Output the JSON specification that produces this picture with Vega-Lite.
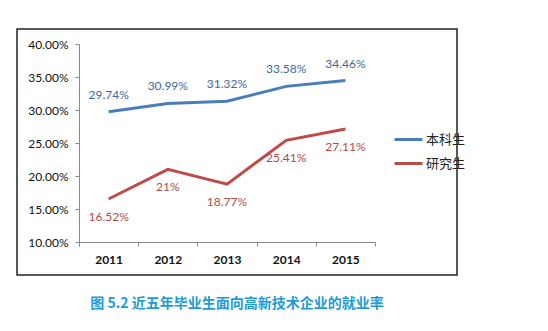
{
  "$schema": "https://vega.github.io/schema/vega-lite/v6.json",
  "width": 440,
  "height": 246,
  "padding": {"left": 17, "top": 29, "right": 91, "bottom": 56},
  "autosize": {"type": "none"},
  "background": "white",
  "config": {
    "view": {"stroke": "#222", "strokeWidth": 1.5},
    "font": "Lato"
  },
  "title": {
    "text": "图 5.2  近五年毕业生面向高新技术企业的就业率",
    "orient": "bottom",
    "anchor": "middle",
    "font": "Noto Sans CJK SC",
    "fontSize": 14,
    "fontWeight": "bold",
    "color": "#1d9bd6",
    "offset": 22
  },
  "data": {
    "values": [
      {"year": "2011", "series": "本科生", "value": 0.2974, "label": "29.74%"},
      {"year": "2012", "series": "本科生", "value": 0.3099, "label": "30.99%"},
      {"year": "2013", "series": "本科生", "value": 0.3132, "label": "31.32%"},
      {"year": "2014", "series": "本科生", "value": 0.3358, "label": "33.58%"},
      {"year": "2015", "series": "本科生", "value": 0.3446, "label": "34.46%"},
      {"year": "2011", "series": "研究生", "value": 0.1652, "label": "16.52%"},
      {"year": "2012", "series": "研究生", "value": 0.21, "label": "21%"},
      {"year": "2013", "series": "研究生", "value": 0.1877, "label": "18.77%"},
      {"year": "2014", "series": "研究生", "value": 0.2541, "label": "25.41%"},
      {"year": "2015", "series": "研究生", "value": 0.2711, "label": "27.11%"}
    ]
  },
  "encoding": {
    "x": {
      "field": "year",
      "type": "ordinal",
      "scale": {"range": [62, 358], "paddingInner": 0, "paddingOuter": 0},
      "axis": {
        "title": null,
        "labelAngle": 0,
        "offset": -33,
        "tickBand": "extent",
        "domainColor": "#888",
        "tickColor": "#888",
        "tickSize": 4,
        "labelFont": "Lato",
        "labelFontSize": 12,
        "labelFontWeight": "bold",
        "labelColor": "#111",
        "labelPadding": 8
      }
    },
    "y": {
      "field": "value",
      "type": "quantitative",
      "scale": {"domain": [0.1, 0.4], "range": [213, 15], "nice": false, "zero": false},
      "axis": {
        "title": null,
        "values": [0.1, 0.15, 0.2, 0.25, 0.3, 0.35, 0.4],
        "format": ".2%",
        "offset": -62,
        "grid": false,
        "domainColor": "#888",
        "tickColor": "#888",
        "tickSize": 4,
        "labelFont": "Lato",
        "labelFontSize": 12,
        "labelColor": "#111",
        "labelPadding": 7
      }
    }
  },
  "layer": [
    {
      "mark": {"type": "line", "strokeWidth": 3},
      "encoding": {
        "color": {
          "field": "series",
          "type": "nominal",
          "scale": {"domain": ["本科生", "研究生"], "range": ["#4a7ebb", "#be4b48"]},
          "legend": {
            "title": null,
            "orient": "none",
            "legendX": 376,
            "legendY": 95,
            "symbolType": "stroke",
            "symbolSize": 784,
            "symbolStrokeWidth": 3,
            "labelFont": "Noto Sans CJK SC",
            "labelFontSize": 13,
            "labelColor": "#222",
            "rowPadding": 1,
            "labelOffset": 2
          }
        }
      }
    },
    {
      "transform": [{"filter": "datum.series === '本科生'"}],
      "mark": {"type": "text", "dy": -17, "fontSize": 12, "font": "Lato", "color": "#3f6a9c"},
      "encoding": {"text": {"field": "label"}}
    },
    {
      "transform": [{"filter": "datum.series === '研究生'"}],
      "mark": {"type": "text", "dy": 18, "fontSize": 12, "font": "Lato", "color": "#b24a48"},
      "encoding": {"text": {"field": "label"}}
    }
  ]
}
